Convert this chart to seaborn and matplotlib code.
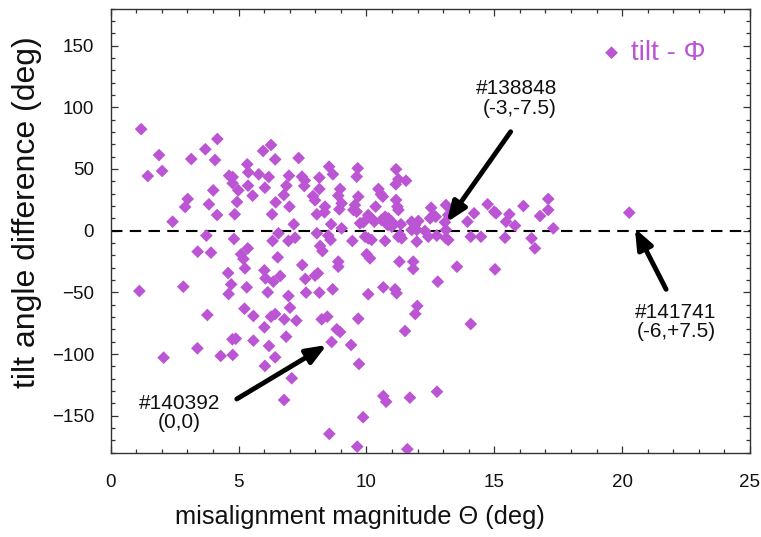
import matplotlib
matplotlib.use("Agg")
import matplotlib.pyplot as plt
import seaborn as sns
import numpy as np
import pandas as pd
from matplotlib.ticker import MultipleLocator

# misalignment magnitude Theta (deg)
theta = [
    1.19, 4.17, 1.89, 3.70, 6.27, 5.96, 3.15, 4.08, 6.43, 7.35, 1.45, 2.01, 5.34, 5.38, 5.79, 6.18,
    4.63, 4.77, 4.77, 4.99, 5.37, 6.03, 5.55, 4.01, 3.01, 2.91, 3.84, 4.16, 4.94, 4.85, 2.42, 6.45,
    6.31, 6.97, 6.87, 6.77, 6.99, 7.16, 7.48, 7.59, 7.57, 8.16, 8.54, 8.69, 8.16, 7.91, 7.99, 8.38,
    8.36, 8.06, 8.62, 8.97, 8.90, 9.03, 8.94, 9.03,
    3.74, 4.82, 3.40, 3.92, 5.10, 5.36, 5.19, 5.25, 4.59, 6.33, 6.56, 6.53, 6.01, 6.05, 6.36, 6.63,
    6.95, 7.21, 7.49, 7.61, 8.06, 8.19, 8.28, 8.51, 8.60, 8.10, 7.99, 8.90, 8.90, 9.45,
    1.12, 2.84, 4.71, 4.61, 5.32, 6.14, 6.95, 7.64, 8.16, 8.68, 7.01, 5.23, 3.78, 5.58, 6.27, 6.43,
    6.79, 7.26, 8.25, 8.47, 6.01, 6.86, 8.84, 8.97, 9.40, 4.76, 4.89, 5.58, 6.19, 6.43, 6.03, 8.64,
    3.39, 4.30, 4.77, 2.07, 7.08, 6.78, 8.55,
    12.79, 10.07, 10.66, 11.12, 11.18, 11.99, 11.91, 9.68, 11.51, 14.08, 9.71, 10.66, 10.77, 11.70,
    12.76, 9.87, 9.64, 11.60,
    9.66, 9.62, 11.16, 11.25, 11.55, 11.15, 10.47, 10.57, 10.64, 9.68, 9.55, 9.62, 9.49,
    11.16, 11.21, 11.25, 10.36, 10.07, 10.20, 10.31, 9.75, 9.88, 10.59, 10.73, 10.86, 10.99, 10.83,
    10.99, 11.35, 11.25, 11.77, 11.90, 12.03, 11.97, 11.77, 12.53, 12.62, 12.71, 12.49, 12.29, 12.42,
    13.11, 13.38, 13.20, 13.07, 13.11, 13.11, 13.20, 12.75, 11.97, 11.31, 11.38, 10.73, 10.20, 10.07,
    9.95, 10.01, 10.14, 11.29, 11.83, 11.83, 13.54, 15.03, 14.08, 14.48, 13.95, 14.21, 14.74, 15.00,
    15.07, 15.46, 15.59, 15.81, 16.14, 15.42, 16.46, 16.59, 16.79, 17.11, 17.11, 17.31, 20.28,
]

# tilt angle difference (deg)
tilt_diff = [
    82.3, 74.3, 61.3, 66.0, 69.5, 64.6, 58.1, 57.3, 57.8, 58.9, 44.3, 48.4, 53.8, 47.3, 45.7, 43.5,
    44.6, 43.5, 38.4, 32.7, 36.5, 34.8, 28.4, 32.7, 25.7, 19.2, 21.4, 12.7, 23.3, 13.3, 7.3, 23.0,
    13.3, 44.6, 36.5, 28.9, 19.5, 5.2, 43.8, 40.8, 36.2, 43.0, 51.9, 45.7, 33.8, 28.1, 24.6, 19.5,
    14.9, 13.3, 5.2, 33.8, 28.4, 22.2, 17.3, 1.9,
    -4.0, -6.7, -17.0, -17.8, -19.1, -14.3, -22.9, -30.5, -34.3, -8.3, -2.1, -21.6, -32.1, -38.6, -41.3, -36.7,
    -8.3, -5.7, -27.8, -39.1, -2.1, -12.4, -16.5, -4.0, -7.5, -34.5, -36.4, -25.1, -29.2, -8.3,
    -48.9, -45.4, -43.5, -51.3, -45.9, -49.9, -52.9, -50.2, -50.2, -47.5, -62.4, -63.2, -68.3, -69.1, -69.7, -67.5,
    -71.8, -72.9, -71.8, -69.7, -78.3, -85.9, -79.9, -82.1, -92.6, -88.0, -87.5, -89.1, -93.4, -102.6, -109.6, -90.2,
    -95.3, -101.5, -100.7, -102.9, -119.6, -137.2, -164.7,
    -41.3, -51.5, -45.9, -47.5, -50.7, -61.0, -67.5, -71.3, -81.3, -75.6, -108.0, -134.0, -138.6, -135.3,
    -130.5, -151.2, -175.0, -177.1,
    50.6, 43.8, 49.8, 41.7, 40.5, 37.6, 33.8, 29.5, 27.6, 27.6, 20.8, 15.4, 16.8,
    24.9, 19.5, 16.8, 19.5, 12.7, 10.0, 7.3, 6.0, 6.8, 8.7, 11.3, 10.0, 7.3, 4.6,
    3.2, 5.2, -4.9, 7.3, 4.6, 7.9, 0.6, 0.6, 18.6, 12.7, 11.3, 10.0, -0.2, -4.9,
    20.8, 17.3, 12.7, 6.8, 0.6, -6.2, -7.5, -4.0, -8.9, -3.5, -6.2, -8.3, -7.5, -6.2,
    -4.9, -19.1, -22.4, -25.1, -25.1, -31.0, -29.2, -31.3, -4.9, -4.9, 7.3, 14.1, 21.4, 15.4,
    14.1, 7.3, 13.3, 4.1, 20.0, -5.7, -6.2, -14.3, 11.9, 16.8, 25.7, 1.9, 14.6,
]

series_label = "tilt - \u03a6"
x_label = "misalignment magnitude \u0398 (deg)"
y_label = "tilt angle difference (deg)"

# annotations: text, label position, arrow tail (text side), arrow head (data side)
ann_texts = ["#138848\n(-3,-7.5)", "#140392\n(0,0)", "#141741\n(-6,+7.5)"]
ann_text_pos = [(17.45, 107.0), (2.68, -147.7), (22.1, -74.0)]
ann_tail = [(15.64, 80.2), (4.93, -136.4), (21.72, -47.5)]
ann_head = [(13.14, 6.8), (8.45, -92.6), (20.50, 1.9)]
ann_align = ["right", "center", "center"]

purple = "#bb55d4"

sns.set_theme(style="white")
plt.rcParams["font.family"] = ["Liberation Sans", "DejaVu Sans"]

fig = plt.figure(figsize=(7.61, 5.37), dpi=100)
ax = fig.add_axes([0.1455, 0.1568, 0.8400, 0.8272])

df = pd.DataFrame({"theta": theta, "tilt": tilt_diff})
sns.scatterplot(data=df, x="theta", y="tilt", marker="D", color=purple, s=42,
                edgecolor="none", linewidth=0, label=series_label, ax=ax, zorder=3)

ax.axhline(0, color="black", lw=1.5, ls=(0, (5.5, 3.5)), zorder=2)

for txt, tp, tail, head, al in zip(ann_texts, ann_text_pos, ann_tail, ann_head, ann_align):
    ax.annotate("", xy=head, xytext=tail,
                arrowprops=dict(arrowstyle="-|>,head_length=1.0,head_width=0.4",
                                lw=3.5, color="black", shrinkA=0, shrinkB=0),
                zorder=4)
    ax.text(tp[0], tp[1], txt, ha="center" if al == "center" else "right",
            va="center", multialignment=al, fontsize=15, color="#111111",
            linespacing=1.05, zorder=5)

ax.set_xlim(0, 25)
ax.set_ylim(-180, 180)
ax.xaxis.set_major_locator(MultipleLocator(5))
ax.xaxis.set_minor_locator(MultipleLocator(1))
ax.yaxis.set_major_locator(MultipleLocator(50))
ax.yaxis.set_minor_locator(MultipleLocator(10))
ax.set_yticks([-150, -100, -50, 0, 50, 100, 150])

ax.tick_params(which="both", direction="in", top=True, right=True, bottom=True, left=True,
               color="#333333", width=0.9)
ax.tick_params(which="major", length=5, labelsize=13.5, labelcolor="#111111")
ax.tick_params(axis="x", which="major", pad=15)
ax.tick_params(axis="y", which="major", pad=12)
ax.tick_params(which="minor", length=3)

for sp in ax.spines.values():
    sp.set_color("#333333")
    sp.set_linewidth(1.0)

ax.set_xlabel(x_label, fontsize=18.3, color="#111111")
ax.set_ylabel(y_label, fontsize=23, color="#111111")
ax.xaxis.set_label_coords(0.39, -0.118)
ax.yaxis.set_label_coords(-0.1075, 0.542)

leg = ax.legend(loc="center right", bbox_to_anchor=(0.961, 0.90), frameon=False,
                fontsize=20, handletextpad=-0.3, markerscale=1.0, borderpad=0.2)
for t in leg.get_texts():
    t.set_color(purple)

fig.savefig("out.png", dpi=100)
